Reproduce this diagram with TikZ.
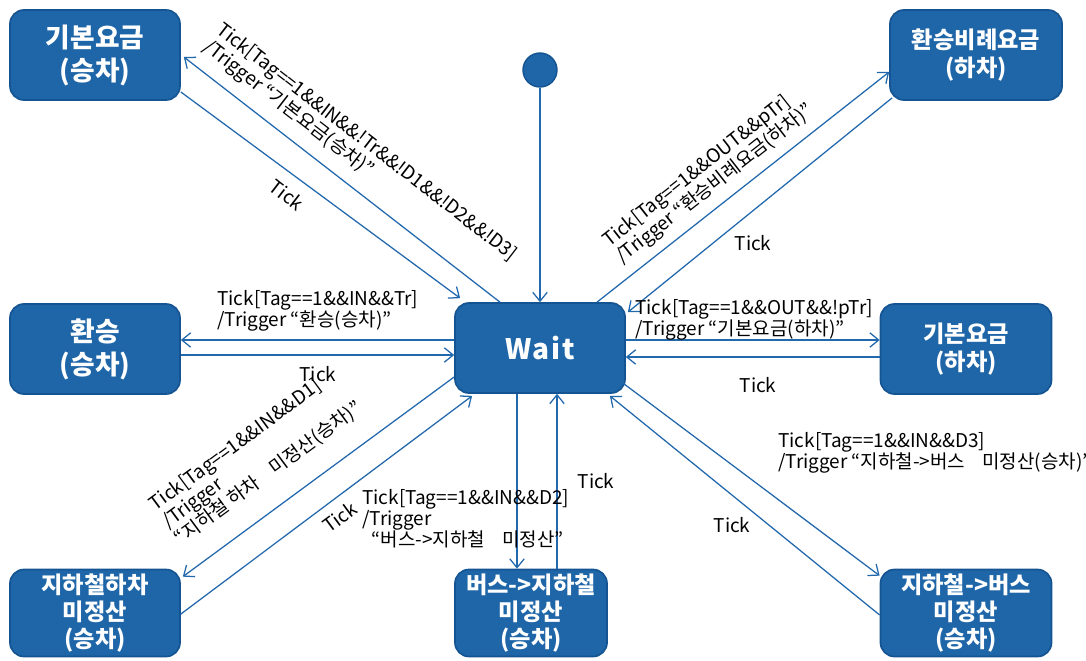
\documentclass[tikz,border=0pt]{standalone}
\usepackage{fontspec}
\setmainfont{Noto Sans CJK KR}
\usetikzlibrary{arrows.meta,calc,math}
\definecolor{stblue}{RGB}{31,102,168}
\definecolor{stedge}{RGB}{20,84,146}
\definecolor{lnblue}{RGB}{34,104,172}
\tikzset{state/.style={draw=stedge,line width=1.2pt,fill=stblue,rounded corners=0.35cm,text=white,align=center,inner sep=0pt,
    minimum width=4.25cm,minimum height=2.25cm,font=\bfseries\fontsize{16.5}{20}\selectfont}}
\tikzset{big/.style={font=\bfseries\fontsize{19}{23.5}\selectfont}}
\tikzset{small/.style={minimum height=2.175cm,font=\bfseries\fontsize{16.5}{19.5}\selectfont}}
\tikzset{trans/.style={draw=lnblue,line width=0.9pt,-{Straight Barb[length=2.2mm,width=3.6mm]}}}
\tikzset{lbl/.style={inner sep=0pt,align=left,font=\fontsize{13.5}{15}\selectfont}}
\newcommand{\gap}{\hspace{0.9em}}

\begin{document}
\begin{tikzpicture}[x=0.025cm,y=-0.025cm]
    \tikzmath{\a=-37.7;\b=38.1;\c=36.4;}
    \useasboundingbox (0,0) rectangle (1086,660);
    \clip (0,0) rectangle (1086,660);
    % states
    \node [state] (wait) at (540,348) {\fontsize{20}{24}\selectfont\addfontfeature{LetterSpace=6}Wait};
    \node [state,big] (kup) at (95,55) {기본요금\\(승차)};
    \node [state,minimum width=4.3cm] (hbi) at (976,55) {환승비례요금\\(하차)};
    \node [state,big] (hwan) at (95,349) {환승\\(승차)};
    \node [state,minimum width=4.275cm] (kdn) at (966,349) {기본요금\\(하차)};
    \node [state,small] (jha) at (95,613) {지하철하차\\미정산\\(승차)};
    \node [state,small,minimum width=3.8cm] (bus) at (531,613) {버스->지하철\\미정산\\(승차)};
    \node [state,small,minimum width=4.275cm] (sbus) at (966,613) {지하철->버스\\미정산\\(승차)};
    \node [circle,fill=stblue,draw=stedge,line width=1pt,minimum size=0.85cm,inner sep=0pt] (init) at (540,70) {};
    % transitions
    \draw [trans] (init) -- (wait);
    \draw [trans] ($(wait.north)+(-40,0)$) -- ($(kup.east)+(3,2)$);
    \draw [trans] ($(kup.east)+(0,37)$) -- ($(wait.north west)+(6,-4)$);
    \draw [trans] ($(wait.north)+(57,0)$) -- ($(hbi.west)+(0,17)$);
    \draw [trans] ($(hbi.south west)+(3,-3)$) -- ($(wait.north east)+(2,10)$);
    \draw [trans] ($(wait.west)+(0,-8)$) -- ($(hwan.east)+(0,-9)$);
    \draw [trans] ($(hwan.east)+(0,6)$) -- ($(wait.west)+(0,7)$);
    \draw [trans] ($(wait.east)+(0,-8)$) -- ($(kdn.west)+(0,-9)$);
    \draw [trans] ($(kdn.west)+(0,8)$) -- ($(wait.east)+(0,9)$);
    \draw [trans] ($(wait.west)+(0,29)$) -- ($(jha.north east)+(2,8)$);
    \draw [trans] ($(jha.east)+(0,1)$) -- ($(wait.south west)+(18,2)$);
    \draw [trans] ($(wait.south)+(-23,0)$) -- ($(bus.north)+(-14,0)$);
    \draw [trans] ($(bus.north)+(26,0)$) -- ($(wait.south)+(17,0)$);
    \draw [trans] ($(wait.east)+(-3,35)$) -- ($(sbus.north west)+(0,7)$);
    \draw [trans] ($(sbus.west)+(0,2)$) -- ($(wait.south east)+(-16,2)$);
    % guards
    \node [lbl,rotate=\a,anchor=south west] (gkup) at (199,53) {Tick[Tag==1\&\&IN\&\&!Tr\&\&!D1\&\&!D2\&\&!D3]\\/Trigger “기본요금(승차)”};
    \node [lbl,rotate=\b,anchor=south west] (ghbi) at (625,268) {Tick[Tag==1\&\&OUT\&\&pTr]\\/Trigger “환승비례요금(하차)”};
    \node [lbl,anchor=north west] (ghwan) at (217,290) {Tick[Tag==1\&\&IN\&\&Tr]\\/Trigger “환승(승차)”};
    \node [lbl,anchor=north west] (gkdn) at (635,299) {Tick[Tag==1\&\&OUT\&\&!pTr]\\/Trigger “기본요금(하차)”};
    \node [lbl,rotate=\c,anchor=south west] (gjha) at (183,549) {Tick[Tag==1\&\&IN\&\&D1]\\/Trigger\\“지하철 하차\gap 미정산(승차)”};
    \node [lbl,anchor=north west] (gbus) at (362,489) {Tick[Tag==1\&\&IN\&\&D2]\\/Trigger\\\hspace{0.5em}“버스->지하철\gap 미정산”};
    \node [lbl,anchor=north west] (gsbus) at (778,432) {Tick[Tag==1\&\&IN\&\&D3]\\/Trigger “지하철->버스\gap 미정산(승차)”};
    % ticks
    \node [lbl,rotate=\a] (tkup) at (287,195) {Tick};
    \node [lbl] (thbi) at (753,243) {Tick};
    \node [lbl] (thwan) at (318,374) {Tick};
    \node [lbl] (tkdn) at (758,385) {Tick};
    \node [lbl,rotate=\c] (tjha) at (340,517) {Tick};
    \node [lbl] (tbus) at (596,481) {Tick};
    \node [lbl] (tsbus) at (732,525) {Tick};
\end{tikzpicture}
\end{document}
